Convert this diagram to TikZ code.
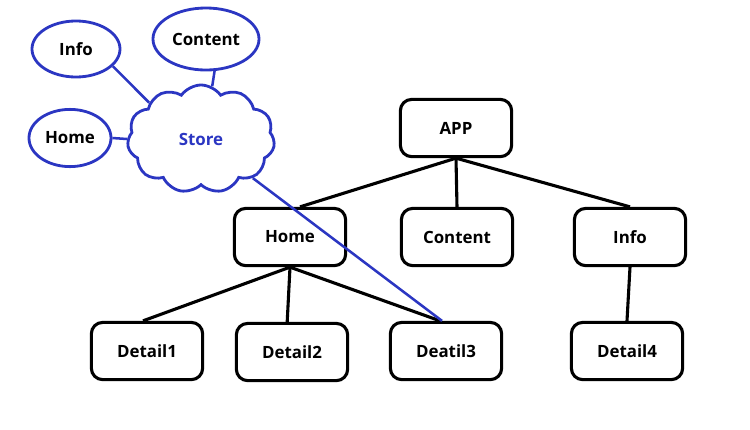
\documentclass[tikz,border=0pt]{standalone}
\usepackage{fontspec}
\setmainfont{Open Sans}
\usetikzlibrary{shapes.geometric, shapes.symbols}
\definecolor{storeblue}{HTML}{2B36C2}

\begin{document}
\begin{tikzpicture}[x=0.025cm, y=-0.025cm,
    font=\bfseries\fontsize{12}{14}\selectfont,
    comp/.style={draw, line width=2.2pt, rounded corners=8pt,
      minimum width=2.78cm, minimum height=1.43cm, inner sep=0pt},
    part/.style={draw=storeblue, line width=2pt, ellipse, inner sep=0pt},
    tree/.style={line width=2.2pt},
    link/.style={storeblue, line width=1.8pt}]
  \useasboundingbox (0,0) rectangle (750,429);

  % component tree
  \node[comp] (app) at (456,128) {APP};
  \node[comp] (home) at (290,237) {Home};
  \node[comp] (content) at (457,237) {Content};
  \node[comp] (info) at (630,237) {Info};
  \node[comp] (d1) at (147,351) {Detail1};
  \node[comp] (d2) at (292,352) {Detail2};
  \node[comp] (d3) at (446,351) {Deatil3};
  \node[comp] (d4) at (627,351) {Detail4};

  \draw[tree] (app.south) -- ([xshift=0.25cm]home.north);
  \draw[tree] (app.south) -- (content.north);
  \draw[tree] (app.south) -- (info.north);
  \draw[tree] (home.south) -- ([xshift=-0.1cm]d1.north);
  \draw[tree] (home.south) -- ([xshift=-0.12cm]d2.north);
  \draw[tree] (home.south) -- ([xshift=-0.15cm]d3.north);
  \draw[tree] (info.south) -- (d4.north);

  % store
  \node[cloud, cloud puffs=11, cloud puff arc=110, draw=storeblue,
    line width=2pt, minimum width=3.68cm, minimum height=2.7cm,
    text=storeblue] (store) at (201,139) {Store};
  \node[part, minimum width=2.2cm, minimum height=1.4cm] (infoE) at (76,49) {Info};
  \node[part, minimum width=2.65cm, minimum height=1.55cm] (contentE) at (206,39) {Content};
  \node[part, minimum width=2.05cm, minimum height=1.43cm] (homeE) at (70,138) {Home};

  \draw[link] (infoE.-25) -- (store.145);
  \draw[link] (contentE.-75) -- (store.78);
  \draw[link] (homeE.east) -- (store.west);
  \draw[link] (store) -- ([xshift=-0.1cm]d3.north);
\end{tikzpicture}
\end{document}
